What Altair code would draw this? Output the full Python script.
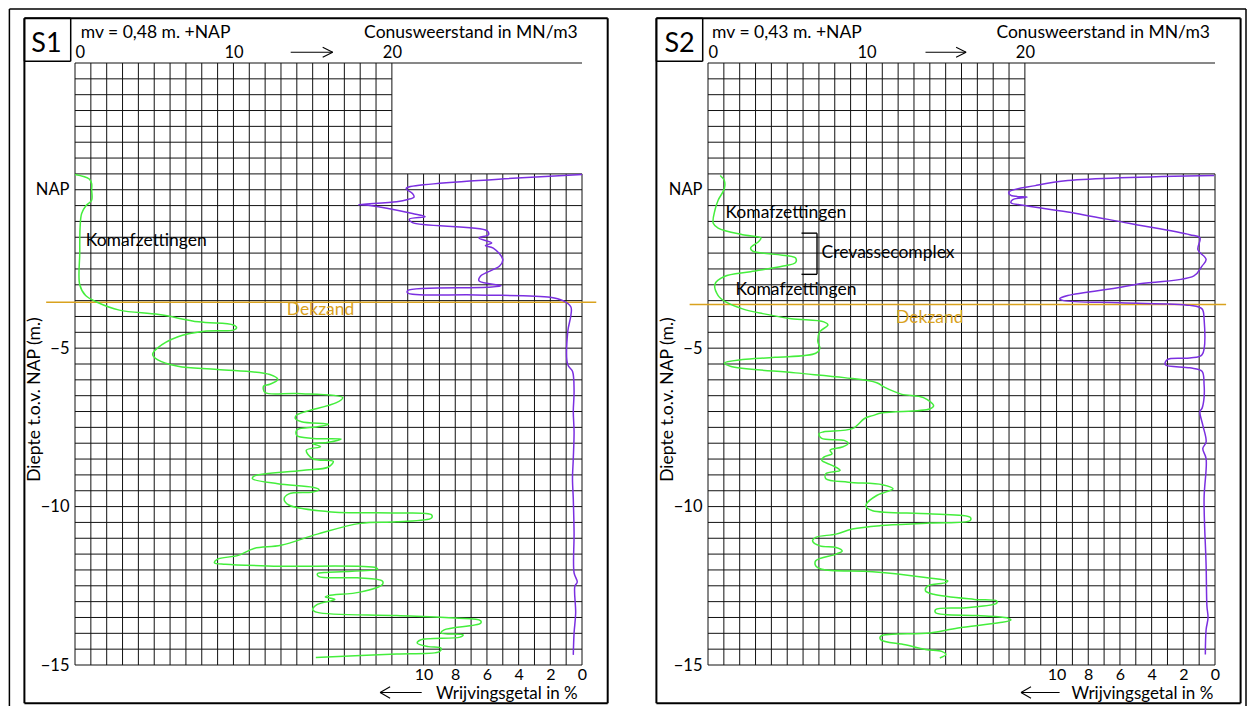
import altair as alt
import numpy as np
import pandas as pd

# ---------------- data ----------------
# S1: cone resistance (MN/m3) vs depth (m t.o.v. NAP)
S1_QC_DEPTH = [0.48, 0.34, 0.19, 0.0, -0.33, -0.5, -0.75, -1.2, -2.0, -3.0, -3.34, -3.55, -3.8, -3.94, -4.17,
               -4.27, -4.36, -4.43, -4.46, -4.64, -5.0, -5.2, -5.36, -5.57, -5.67, -5.83, -5.99, -6.14, -6.2,
               -6.4, -6.43, -6.56, -6.72, -7.11, -7.21, -7.32, -7.40, -7.48, -7.58, -7.76, -7.85, -7.87, -7.98,
               -8.01, -8.11, -8.22, -8.49, -8.57, -8.75, -8.86, -9.04, -9.12, -9.28, -9.39, -9.46, -9.54, -9.6,
               -9.76, -9.95, -10.16, -10.2, -10.26, -10.36, -10.48, -10.53, -10.87, -11.22, -11.32, -11.54,
               -11.66, -11.77, -11.82, -11.88, -11.93, -11.98, -12.07, -12.12, -12.21, -12.25, -12.35, -12.46,
               -12.7, -12.81, -12.85, -12.93, -13.09, -13.25, -13.34, -13.44, -13.52, -13.6, -13.68, -13.89,
               -13.99, -14.05, -14.12, -14.21, -14.31, -14.42, -14.47, -14.58, -14.65, -14.76]
S1_QC = [0.0, 0.9, 1.05, 1.05, 1.05, 0.7, 0.42, 0.32, 0.3, 0.3, 0.67, 1.4, 2.8, 5.3, 7.8,
         10.0, 10.2, 10.0, 8.3, 6.5, 5.2, 4.9, 5.2, 6.5, 9.0, 12.3, 12.8, 12.3, 11.9,
         12.0, 14.0, 16.9, 16.5, 14.0, 13.9, 14.3, 16.0, 15.3, 14.0, 14.0, 15.0, 16.8, 15.9,
         15.0, 15.5, 14.6, 15.0, 16.3, 16.0, 14.3, 11.3, 11.2, 12.8, 15.0, 15.4, 15.0, 13.5,
         13.2, 13.5, 16.0, 20.3, 22.5, 22.5, 20.3, 18.0, 15.3, 13.0, 11.3, 10.3,
         9.0, 8.8, 9.5, 12.8, 19.0, 19.1, 16.0, 15.3, 15.4, 17.8, 19.4, 19.4,
         18.0, 16.0, 15.8, 16.4, 15.3, 15.0, 15.3, 20.3, 24.0, 25.6, 25.6, 23.3,
         23.1, 24.5, 24.3, 21.8, 21.6, 22.3, 23.1, 23.0, 20.3, 15.2]
# S1: friction ratio (%) vs depth
S1_RF_DEPTH = [0.48, 0.08, 0.03, -0.12, -0.23, -0.31, -0.38, -0.47, -0.49, -0.75, -0.85, -0.93, -1.04,
               -1.29, -1.42, -1.52, -1.68, -1.76, -1.84, -2.2, -2.41, -2.72, -2.88, -3.03, -3.08, -3.18,
               -3.26, -3.32, -3.39, -3.5, -3.7, -3.96, -4.48, -5.52, -5.73, -6.35, -7.0, -7.64, -8.49,
               -9.12, -9.76, -10.82, -12.09, -12.38, -12.51, -13.36, -13.99, -14.68]
S1_RF = [0.0, 11.0, 11.1, 10.7, 10.6, 11.0, 11.7, 14.1, 13.5, 10.7, 9.9, 10.9, 10.7,
         6.0, 5.9, 6.5, 5.7, 6.1, 5.6, 5.0, 5.2, 6.4, 6.5, 5.1, 6.0, 11.0,
         11.0, 6.7, 2.0, 1.2, 0.7, 0.7, 0.9, 0.9, 0.6, 0.5, 0.55, 0.5, 0.55,
         0.6, 0.55, 0.5, 0.5, 0.3, 0.45, 0.4, 0.5, 0.55]

# S2: cone resistance
S2_QC_DEPTH = [0.45, 0.29, 0.03, -0.33, -0.64, -1.06, -1.21, -1.42, -1.52, -1.63, -1.84, -1.94, -2.04,
               -2.15, -2.3, -2.41, -2.59, -2.74, -2.98, -3.34, -3.55, -3.76, -3.91, -4.07, -4.17, -4.27,
               -4.48, -4.79, -5.0, -5.16, -5.29, -5.36, -5.47, -5.57, -5.78, -5.93, -6.09, -6.24, -6.45,
               -6.56, -6.82, -6.92, -7.04, -7.13, -7.22, -7.54, -7.64, -7.7, -7.85, -7.91, -8.01, -8.12,
               -8.22, -8.33, -8.44, -8.54, -8.7, -8.86, -8.96, -9.12, -9.23, -9.31, -9.44, -9.55, -9.65,
               -9.92, -10.02, -10.13, -10.23, -10.34, -10.44, -10.52, -10.6, -10.71, -10.87, -10.97,
               -11.08, -11.24, -11.29, -11.4, -11.5, -11.71, -11.87, -11.98, -12.06, -12.24, -12.35,
               -12.4, -12.51, -12.66, -12.77, -12.93, -12.98, -13.05, -13.19, -13.25, -13.35, -13.44,
               -13.51, -13.58, -13.67, -13.83, -13.99, -14.09, -14.2, -14.36, -14.51, -14.57, -14.67, -14.78]
S2_QC = [0.77, 1.03, 1.03, 0.64, 0.44, 0.33, 0.64, 2.18, 3.34, 3.21, 2.69, 2.82, 4.23,
         5.52, 5.52, 4.75, 2.69, 1.03, 0.44, 0.64, 1.15, 2.18, 3.46, 5.26, 7.31, 7.57,
         7.06, 6.93, 7.06, 6.8, 4.23, 2.18, 1.03, 1.41, 5.52, 8.6, 10.65, 11.16, 12.19,
         13.6, 14.24, 13.99, 11.0, 10.39, 9.88, 9.11, 7.31, 7.0, 7.18, 8.6, 8.85, 8.47,
         7.7, 7.83, 7.31, 7.18, 7.83, 8.34, 7.44, 7.44, 8.85, 11.0, 11.68, 11.16, 10.65,
         10.0, 10.0, 10.39, 13.99, 16.55, 16.55, 13.99, 10.9, 9.11, 8.08, 6.8,
         6.6, 7.06, 8.08, 8.47, 8.08, 6.8, 6.8, 7.18, 10.39, 13.73, 15.14,
         15.01, 13.86, 13.73, 14.24, 16.81, 18.22, 18.22, 16.29, 14.37, 14.37, 17.06,
         18.86, 19.12, 18.35, 15.78, 13.99, 10.9, 10.9, 12.45, 13.73, 14.75, 15.01, 14.63]
# S2: friction ratio
S2_RF_DEPTH = [0.45, 0.29, 0.13, -0.07, -0.18, -0.23, -0.31, -0.41, -0.49, -0.7, -1.06, -1.42, -1.52,
               -1.89, -2.2, -2.41, -2.72, -2.98, -3.08, -3.34, -3.44, -3.5, -3.57, -3.65, -3.76, -4.07,
               -5.21, -5.31, -5.36, -5.52, -5.62, -5.73, -6.14, -6.56, -6.9, -7.0, -7.43, -7.96, -8.17,
               -8.49, -9.76, -11.87, -13.14, -13.51, -13.88, -14.67]
S2_RF = [0.05, 9.29, 11.34, 13.01, 12.88, 11.86, 12.76, 12.88, 12.11, 9.29, 5.44, 1.59, 0.95,
         1.08, 0.56, 0.82, 1.33, 4.93, 5.95, 9.29, 9.8, 9.55, 5.95, 1.59, 0.82, 0.69,
         0.82, 1.59, 3.01, 3.14, 1.59, 0.82, 0.69, 0.69, 0.82, 0.95, 0.77, 0.56, 0.77,
         0.56, 0.69, 0.56, 0.51, 0.44, 0.56, 0.61]

S1_LABELS = ["Komafzettingen"]
S1_LABEL_X = [0.68]
S1_LABEL_Y = [-1.61]
S2_LABELS = ["Komafzettingen", "Crevassecomplex", "Komafzettingen"]
S2_LABEL_X = [1.1, 7.17, 1.74]
S2_LABEL_Y = [-0.72, -2.01, -3.15]

DEKZAND_Y = {"S1": -3.55, "S2": -3.62}
DEKZAND_LABEL = {"S1": (15.5, -3.81), "S2": (14.0, -4.05)}
MV_TEXT = {"S1": "mv = 0,48 m. +NAP", "S2": "mv = 0,43 m. +NAP"}

QC_TICKS = [0, 10, 20]
RF_TICKS = [10, 8, 6, 4, 2, 0]
DEPTH_TICKS = [0, -5, -10, -15]

# ---------------- layout / style ----------------
RF_ZERO = 32          # friction axis runs right-to-left from this qc position
W, H = 507, 602
GREEN = "#44ee3c"
PURPLE = "#7b2fe0"
GOLD = "#d9a21e"
FONT = "Lato"

xs = alt.Scale(domain=[0, RF_ZERO], nice=False, zero=False)
ys = alt.Scale(domain=[-15, 4], nice=False, zero=False)
ONE = alt.Data(values=[{"a": 1}])


def seg(x1, y1, x2, y2, w=1.0, c="black"):
    return alt.Chart(ONE).mark_rule(color=c, strokeWidth=w).encode(
        x=alt.value(x1), y=alt.value(y1), x2=alt.value(x2), y2=alt.value(y2))


def rect(x1, y1, x2, y2, w):
    return [seg(x1, y1, x2, y1, w), seg(x2, y1, x2, y2, w),
            seg(x2, y2, x1, y2, w), seg(x1, y2, x1, y1, w)]


def txt(x, y, s, size=17.5, align="left", color="black"):
    return alt.Chart(ONE).mark_text(text=s, align=align, baseline="middle", fontSize=size,
                                    color=color, font=FONT).encode(x=alt.value(x), y=alt.value(y))


def panel(name, qc_d, qc, rf_d, rf, lab, lab_x, lab_y, geo, outer=False):
    # grid: vertical lines every 1 MN/m3, horizontal every 0.5 m
    vx = np.arange(0, RF_ZERO + 1)
    vert = pd.DataFrame({"x": vx, "bot": -15.0, "top": np.where(vx <= 20, 4.0, 0.5)})
    hy = np.arange(-15, 4.01, 0.5)
    horiz = pd.DataFrame({"y": hy, "x0": 0.0,
                          "x1": np.where((hy <= 0.5) | (hy >= 4), RF_ZERO, 20)})

    top_axis = alt.Axis(orient="top", values=QC_TICKS, title=None, tickSize=0, domain=False,
                        grid=False, labelFontSize=16.5, labelPadding=3, labelColor="black")
    bot_axis = alt.Axis(orient="bottom", values=[RF_ZERO - v for v in RF_TICKS], title=None,
                        labelExpr=f"'' + ({RF_ZERO} - datum.value)", tickSize=0, domain=False,
                        grid=False, labelFontSize=16, labelPadding=1, labelFlush=False,
                        labelColor="black")
    y_axis = alt.Axis(orient="left", values=DEPTH_TICKS, title="Diepte t.o.v. NAP (m.)",
                      labelExpr="datum.value == 0 ? 'NAP' : datum.label", tickSize=0, domain=False,
                      grid=False, labelFontSize=16.5, labelPadding=6, labelColor="black",
                      titleFontSize=17.5, titleFontWeight="normal", titleColor="black",
                      titleX=-32, titleY=336)

    gv = alt.Chart(vert).mark_rule(color="#111", strokeWidth=1).encode(
        x=alt.X("x:Q", scale=xs, axis=top_axis),
        y=alt.Y("bot:Q", scale=ys, axis=y_axis), y2="top:Q")
    gh = alt.Chart(horiz).mark_rule(color="#111", strokeWidth=1).encode(
        x=alt.X("x0:Q", scale=xs, axis=bot_axis), x2="x1:Q",
        y=alt.Y("y:Q", scale=ys, axis=None))

    dk = alt.Chart(pd.DataFrame({"x": [geo["dk_x0"]], "x2": [geo["dk_x1"]], "y": [DEKZAND_Y[name]]})
                   ).mark_rule(color=GOLD, strokeWidth=1.6).encode(
        x=alt.X("x:Q", scale=xs, axis=None), x2="x2:Q", y=alt.Y("y:Q", scale=ys, axis=None))
    dkx, dky = DEKZAND_LABEL[name]
    dkt = alt.Chart(pd.DataFrame({"x": [dkx], "y": [dky], "t": ["Dekzand"]})).mark_text(
        color=GOLD, fontSize=17.5, font=FONT, align="center", baseline="middle").encode(
        x=alt.X("x:Q", scale=xs, axis=None), y=alt.Y("y:Q", scale=ys, axis=None), text="t:N")

    qdf = pd.DataFrame({"d": qc_d, "v": qc, "i": range(len(qc))})
    rdf = pd.DataFrame({"d": rf_d, "f": rf, "i": range(len(rf))})
    lq = alt.Chart(qdf).mark_line(color=GREEN, strokeWidth=1.5, interpolate="catmull-rom").encode(
        x=alt.X("v:Q", scale=xs, axis=None), y=alt.Y("d:Q", scale=ys, axis=None), order="i:Q")
    lr = alt.Chart(rdf).transform_calculate(pos=f"{RF_ZERO} - datum.f").mark_line(
        color=PURPLE, strokeWidth=1.5, interpolate="catmull-rom").encode(
        x=alt.X("pos:Q", scale=xs, axis=None), y=alt.Y("d:Q", scale=ys, axis=None), order="i:Q")

    ann = alt.Chart(pd.DataFrame({"x": lab_x, "y": lab_y, "t": lab})).mark_text(
        fontSize=17.5, font=FONT, align="left", baseline="middle", color="black").encode(
        x=alt.X("x:Q", scale=xs, axis=None), y=alt.Y("y:Q", scale=ys, axis=None), text="t:N")

    layers = [gv, gh, dk, lq, lr, dkt, ann]

    if name == "S2":
        br = pd.DataFrame({"x": [5.9, 6.88, 5.9], "x2": [6.88, 6.88, 6.88],
                           "y": [-1.37, -1.37, -2.67], "y2": [-1.37, -2.67, -2.67]})
        layers.append(alt.Chart(br).mark_rule(color="black", strokeWidth=1.4).encode(
            x=alt.X("x:Q", scale=xs, axis=None), x2="x2:Q",
            y=alt.Y("y:Q", scale=ys, axis=None), y2="y2:Q"))

    # frames and header/footer texts (pixel positions relative to the plot area)
    fl, fr = geo["frame_l"], geo["frame_r"]
    ft, fb = -44.7, 640.3
    layers += rect(fl, ft, fr, fb, 2.0)
    layers += rect(fl, ft, geo["box_r"], -1.7, 1.5)
    layers.append(txt(geo["s_x"], -19.5, name, size=27, align="center"))
    layers.append(txt(geo["mv_x"], -30.5, MV_TEXT[name]))
    layers.append(txt(geo["cw_r"], -30.5, "Conusweerstand in MN/m3", align="right"))
    a0, a1 = geo["ta"]
    layers += [seg(a0, -10.7, a1, -10.7, 1.1), seg(a1 - 10, -15.7, a1, -10.7, 1.1),
               seg(a1 - 10, -5.7, a1, -10.7, 1.1)]
    b0, b1 = geo["ba"]
    layers += [seg(b0, 629.5, b1, 629.5, 1.1), seg(b0 + 10, 623.8, b0, 629.5, 1.1),
               seg(b0 + 10, 635.2, b0, 629.5, 1.1)]
    layers.append(txt(geo["wr_r"], 631.0, "Wrijvingsgetal in %", size=17, align="right"))

    if outer:
        ol, ot, orr, ob = -65.6, -54.0, 1171.0, 643.0
        layers += [seg(ol, ot, orr, ot, 1.5), seg(ol, ot, ol, ob, 1.5), seg(orr, ot, orr, ob, 1.5)]

    return (alt.layer(*layers).resolve_axis(x="independent", y="independent")
            .properties(width=W, height=H))


geo1 = dict(dk_x0=-1.82, dk_x1=32.9, frame_l=-50.6, frame_r=532.7, box_r=-4.3, s_x=-28.5,
            mv_x=5.7, cw_r=502.7, ta=(215.7, 257.7), ba=(305.1, 346.7), wr_r=502.7)
geo2 = dict(dk_x0=-1.16, dk_x1=32.7, frame_l=-51.6, frame_r=532.6, box_r=-5.3, s_x=-28.4,
            mv_x=4.1, cw_r=502.0, ta=(217.5, 258.1), ba=(313.0, 351.6), wr_r=505.3)

p1 = panel("S1", S1_QC_DEPTH, S1_QC, S1_RF_DEPTH, S1_RF, S1_LABELS, S1_LABEL_X, S1_LABEL_Y, geo1, outer=True)
p2 = panel("S2", S2_QC_DEPTH, S2_QC, S2_RF_DEPTH, S2_RF, S2_LABELS, S2_LABEL_X, S2_LABEL_Y, geo2)

chart = alt.hconcat(p1, p2, spacing=126, bounds="flush").properties(padding=0).configure(
    font=FONT).configure_view(stroke=None)

chart.save("out.html", embed_options={"renderer": "svg", "actions": False})
